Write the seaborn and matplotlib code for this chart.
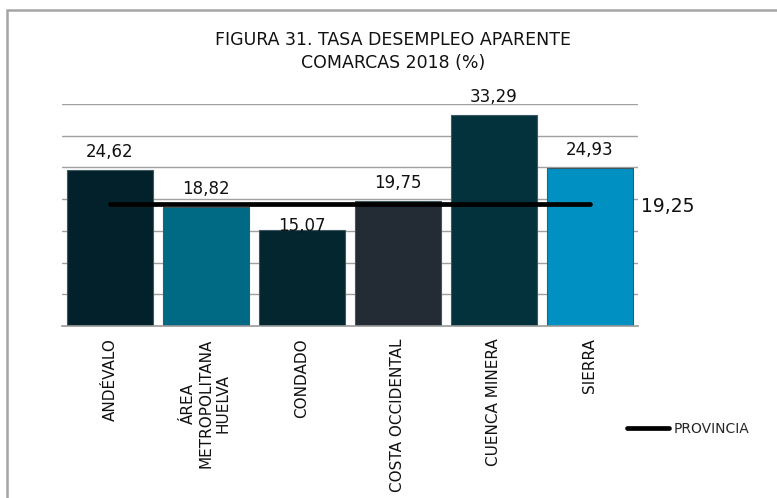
import matplotlib
matplotlib.use("Agg")
import matplotlib.pyplot as plt
import seaborn as sns
from matplotlib.patches import Rectangle

# Data
comarcas = ["ANDÉVALO", "ÁREA\nMETROPOLITANA\nHUELVA", "CONDADO",
            "COSTA OCCIDENTAL", "CUENCA MINERA", "SIERRA"]
tasa = [24.62, 18.82, 15.07, 19.75, 33.29, 24.93]
etiquetas = ["24,62", "18,82", "15,07", "19,75", "33,29", "24,93"]
provincia = 19.25
provincia_txt = "19,25"
colores = ["#03212a", "#006a85", "#04262f", "#232b35", "#03323d", "#0090c2"]

sns.set_style("white")
plt.rcParams["font.family"] = ["DejaVu Sans"]

fig = plt.figure(figsize=(7.77, 4.98), dpi=100)
ax = fig.add_axes([0.0798, 0.3454, 0.7413, 0.4458])

# gridlines behind bars
for v in range(5, 40, 5):
    ax.axhline(v, color="#a0a0a0", lw=1, zorder=0)

sns.barplot(x=comarcas, y=tasa, hue=comarcas, palette=colores, width=0.9,
            legend=False, edgecolor="#3e5862", linewidth=0.8, ax=ax,
            saturation=1, zorder=2)

# provincial average line
sns.lineplot(x=comarcas, y=[provincia] * len(comarcas), color="black", lw=3.4,
             label="PROVINCIA", ax=ax, zorder=3, sort=False)
for ln in ax.get_lines():
    ln.set_solid_capstyle("round")

# value labels
offsets = [13, 13, 3, 13, 13, 13]
for i, (v, t) in enumerate(zip(tasa, etiquetas)):
    ax.annotate(t, (i, v), xytext=(0, offsets[i]), textcoords="offset points",
                ha="center", va="center", fontsize=12, color="#111111", zorder=4)

ax.annotate(provincia_txt, (1.0, provincia), xycoords=("axes fraction", "data"),
            xytext=(2, -2), textcoords="offset points", ha="left", va="center",
            fontsize=13.5, color="#111111")

ax.set_ylim(0, 35)
ax.set_xlim(-0.5, len(comarcas) - 0.5)
ax.set_yticks([])
ax.tick_params(axis="x", length=0, pad=9, labelsize=11, labelcolor="#111111")
for lab in ax.get_xticklabels():
    lab.set_rotation(90)
    lab.set_multialignment("center")
for s in ["top", "right", "left"]:
    ax.spines[s].set_visible(False)
ax.spines["bottom"].set_color("#999999")
ax.spines["bottom"].set_linewidth(1.2)

leg = ax.legend(loc="center left", bbox_to_anchor=(0.96, -0.465), frameon=False,
                fontsize=10, handlelength=3.0, handletextpad=0.3)

fig.text(0.506, 0.897, "FIGURA 31. TASA DESEMPLEO APARENTE\nCOMARCAS 2018 (%)",
         ha="center", va="center", fontsize=12.5, color="#111111", linespacing=1.35)

# outer frame of the chart area
fig.patches.append(Rectangle((7 / 777, -0.2), 1.2, 1.2 - 10 / 498,
                             transform=fig.transFigure, fill=False,
                             edgecolor="#a5a5a5", lw=1.8, zorder=10))

fig.savefig("out.png", dpi=100)
